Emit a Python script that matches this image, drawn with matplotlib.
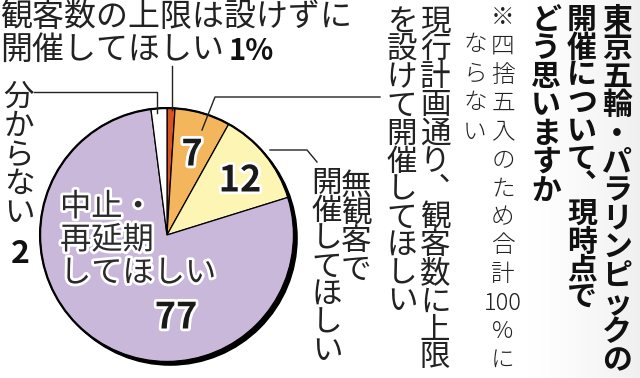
import numpy as np
import matplotlib
matplotlib.use('Agg')
import matplotlib.pyplot as plt
import matplotlib.patheffects as pe
from matplotlib.patches import Circle

plt.rcParams['font.family'] = ['Noto Sans CJK JP', 'DejaVu Sans']

# data (clockwise from 12 o'clock)
labels = ['観客数の上限は設けずに開催してほしい', '現行計画通り、観客数に上限を設けて開催してほしい',
          '無観客で開催してほしい', '中止・再延期してほしい', '分からない']
values = [1, 7, 12, 77, 2]
colors = ['#d9541e', '#f3b65c', '#fdf5b4', '#c9b8da', '#ffffff']

title_cols = ['東京五輪・パラリンピックの', '開催について、現時点で', 'どう思いますか']
note_cols = [['※', '四', '捨', '五', '入', 'の', 'た', 'め', '合', '計', '100', '%', 'に'],
             ['な', 'ら', 'な', 'い']]

fig = plt.figure(figsize=(6.4, 3.78), dpi=100)

# pie axes: centre (167, 235) px, radius 132 px
pax = fig.add_axes([35/640, 11/378, 264/640, 264/378])
pax.add_patch(Circle((0.025, -0.025), 1.0, color='black', zorder=0))
wedges, _ = pax.pie(values, colors=colors, startangle=90, counterclock=False,
                    wedgeprops=dict(edgecolor='black', linewidth=0.9))
pax.add_patch(Circle((0, 0), 1.0, fill=False, edgecolor='black', linewidth=1.6, zorder=5))
pax.set_xlim(-1.04, 1.04)
pax.set_ylim(-1.04, 1.04)
pax.set_aspect('equal')
pax.axis('off')

# overlay in pixel coordinates
ax = fig.add_axes([0, 0, 1, 1])
ax.patch.set_alpha(0)
grad = np.linspace(0, 1, 100).reshape(1, -1) ** 1.5 * 0.13
ax.imshow(grad, extent=[515, 640, 378, 0], cmap='Greys', vmin=0, vmax=1,
          aspect='auto', zorder=0)
ax.set_xlim(0, 640)
ax.set_ylim(378, 0)
ax.axis('off')


def vtext(x, y0, step, tokens, **kw):
    # one glyph per cell, top to bottom; 、 uses its vertical form
    for i, t in enumerate(tokens):
        ch = '︑' if t == '、' else t
        ax.text(x, y0 + i*step, ch, ha='center', va='center', **kw)


# title
tk = dict(fontsize=21.5, fontweight='bold', color='#111111')
vtext(617, 20, 28.4, list(title_cols[0]), **tk)
vtext(582, 20, 27.7, list(title_cols[1]), **tk)
vtext(546, 20, 28.4, list(title_cols[2]), **tk)

# note
vtext(503, 18, 28.5, note_cols[0], fontsize=17, fontweight='light', color='#222222')
vtext(475, 45, 29, note_cols[1], fontsize=17, fontweight='light', color='#222222')

# labels as vertical columns
bk = dict(fontsize=22, color='#222222')
vtext(435, 22, 28, list('現行計画通り、観客数に上限'), **bk)
vtext(402, 22, 28, list('を設けて開催してほしい'), **bk)
vtext(356, 186, 28, list('無観客で'), **bk)
vtext(327, 183, 28, list('開催してほしい'), **bk)
vtext(19, 97, 29, list('分からない'), **bk)
ax.text(20, 254, str(values[4]), ha='center', va='center', fontsize=23,
        fontweight='bold', color='#111111')

# top label
ax.text(0, 17, '観客数の上限は設けずに', ha='left', va='center', fontsize=23, color='#222222')
ax.text(0, 50, '開催してほしい', ha='left', va='center', fontsize=23, color='#222222')
ax.text(229, 51, f'{values[0]}%', ha='left', va='center', fontsize=21,
        fontweight='bold', color='#111111')

# leader lines
lk = dict(color='#222222', linewidth=1.0)
ax.plot([172, 172], [66, 110], **lk)
ax.plot([34, 157, 157], [92, 92, 113], **lk)
ax.plot([202, 215, 380], [130, 97, 97], **lk)
ax.plot([270, 307, 317], [150, 150, 162], **lk)

# numbers inside the pie
halo = [pe.withStroke(linewidth=4, foreground='white')]
for x, y, v in [(192, 155, values[1]), (240, 181, values[2]), (176, 318, values[3])]:
    ax.text(x, y, str(v), ha='center', va='center', fontsize=26, fontweight='bold',
            color='#1a1a1a', path_effects=halo)
for y, s in zip([207, 240, 273], ['中止・', '再延期', 'してほしい']):
    ax.text(60, y, s, ha='left', va='center', fontsize=22.5, color='#2a2a2a',
            path_effects=halo)

fig.savefig('out.png', dpi=100)
